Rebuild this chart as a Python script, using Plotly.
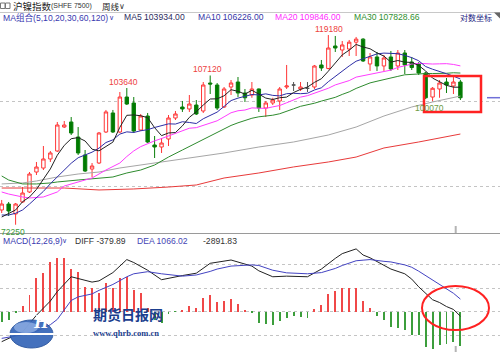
import plotly.graph_objects as go
import pandas as pd
import numpy as np

W, H = 500, 352

# ---------------- weekly candles (SHFE nickel index) ----------------
opens = [75120, 76310, 74330, 76720, 78770, 83030, 83910, 85940, 87770, 93500,
         94750, 91070, 86850, 83690, 85030, 92280, 97030, 92280, 101200, 99620,
         92760, 96260, 89170, 88700, 90590, 95750, 98570, 98060, 99090, 97540,
         105010, 104460, 98570, 103910, 105290, 102280, 101740, 103370, 98310, 99620,
         100150, 103910, 104460, 103370, 103550, 103910, 110130, 109120, 115790, 114570,
         114870, 116960, 117900, 110420, 112480, 109840, 112480, 109840, 113670, 111000,
         110420, 107820, 101200, 103370, 105290, 104190, 105290]
highs = [77130, 76720, 76520, 79810, 83030, 85260, 88930, 87770, 94750, 95000,
         96000, 93500, 88000, 85030, 92280, 97800, 97800, 102550, 103640, 101200,
         96770, 97030, 91310, 90830, 96510, 97540, 100150, 101740, 100410, 105290,
         107120, 105010, 103910, 105850, 106690, 103370, 105290, 103500, 100150, 101000,
         103910, 110130, 105290, 105290, 105290, 110130, 111590, 119180, 118890, 117320,
         117640, 118580, 118200, 113670, 113970, 113070, 114270, 114570, 114570, 112480,
         111000, 108120, 103910, 105850, 106410, 106690, 105850]
lows = [74520, 73930, 72250, 76520, 78560, 82380, 83470, 85260, 87540, 93260,
        91550, 86850, 83030, 81950, 84810, 92040, 92040, 92040, 99090, 92040,
        92520, 89640, 86160, 87310, 88940, 95250, 97290, 97290, 96510, 97030,
        102010, 97800, 98310, 101740, 101200, 99880, 101000, 97290, 96010, 99090,
        97800, 103370, 102820, 102820, 102550, 103370, 108410, 108860, 113970, 112480,
        112770, 112770, 111010, 108410, 108410, 108410, 108410, 108680, 107530, 108680,
        107260, 100670, 100070, 101000, 102280, 102010, 100410]
closes = [76310, 74920, 76310, 78560, 82600, 84130, 85940, 87310, 94000, 94000,
          92040, 87310, 83250, 84360, 92040, 97290, 92280, 101200, 99350, 92520,
          96260, 89870, 88700, 89640, 95750, 96770, 98060, 99350, 96770, 104460,
          104740, 98310, 103370, 105010, 102280, 101000, 103370, 98310, 99620, 100410,
          103370, 104190, 104460, 103910, 103550, 109830, 109260, 115170, 115170, 116100,
          116960, 117900, 111300, 112480, 109840, 112180, 108970, 113670, 110130, 109390,
          107820, 101000, 103560, 105010, 104460, 105290, 101000]
doji_weeks = [42, 44]

ma5_head_idx = [0, 1, 2, 3]
ma5_head_val = [73740, 74370, 75120, 76780]
ma10_head_idx = [0, 1, 2, 3, 4, 5, 6, 7, 8]
ma10_head_val = [74130, 74130, 74470, 75120, 76310, 77500, 78900, 80500, 82000]
ma20_head_idx = [0, 1, 3, 4, 6, 8, 9, 11, 13, 15, 17, 18]
ma20_head_val = [78770, 78350, 77740, 77540, 77740, 78770, 80020, 80880, 81740, 83470, 85030, 86500]
ma30_head_idx = [0, 1, 3, 5, 7, 8, 11, 13, 16, 18, 20, 22, 24, 26, 28]
ma30_head_val = [82170, 81300, 80460, 80460, 80670, 80880, 81300, 81520, 81950, 82820, 83470, 84580, 86380, 88000, 89700]
ma60_idx = [0, 3, 5, 8, 11, 14, 17, 20, 23, 27, 32, 37, 42, 47, 51, 55, 59, 62, 66]
ma60_val = [80460, 80670, 81090, 81950, 82600, 83030, 83920, 84580, 85260, 86170, 87310, 88700,
            89880, 91550, 93500, 96260, 98570, 99880, 101470]
ma120_idx = [0, 5, 9, 14, 19, 24, 28, 32, 37, 42, 47, 51, 55, 60, 66]
ma120_val = [79600, 79600, 79600, 79190, 79400, 79810, 80240, 81730, 82820, 84150, 85260, 86380,
             88470, 89880, 91790]

# ---------------- MACD(12,26,9) ----------------
macd_hist = [-844, -700, -110, 481, 1409, 2844, 3266, 4195, 4558, 4507,
             3629, 3376, 2110, 2000, 1578, 2422, 2026, 2870, 2954, 1831,
             1578, 338, -700, -979, -219, -25, 143, 481, 287, 1182,
             1409, 793, 903, 1072, 650, 143, -100, -979, -1063, -1123,
             -785, -557, -338, -422, -506, 228, 565, 1469, 1772, 1975,
             2026, 2026, 903, 338, -338, -700, -1266, -1401, -1545, -1967,
             -1967, -2954, -3148, -2810, -2751, -2583, -2892]
diff_idx = [0, 3, 5, 7, 8, 10, 11, 13, 14, 16, 18, 19, 21, 23, 26, 28, 30, 33, 36, 37,
            39, 41, 44, 46, 48, 49, 51, 52, 53, 55, 56, 58, 59, 60, 61, 62, 63, 64, 65, 66]
diff_val = [-2532, -1700, -300, 900, 1700, 2950, 2800, 2500, 2600, 3300, 4400, 4150, 3500, 2700,
            3050, 3250, 4085, 4363, 3850, 3450, 2950, 3000, 2950, 3600, 4500, 4900, 5300, 4785,
            4550, 3900, 3600, 3200, 2750, 2100, 1520, 1010, 775, 435, 190, -380]
dea_idx = [0, 3, 5, 7, 8, 10, 11, 13, 14, 16, 18, 19, 21, 23, 26, 28, 30, 31, 33, 36, 37,
           39, 41, 44, 46, 48, 49, 51, 52, 53, 55, 56, 58, 59, 60, 61, 62, 63, 64, 65, 66]
dea_val = [-2250, -1950, -1650, -1100, -650, 950, 1250, 1500, 1800, 2300, 2950, 3200, 3376, 3200,
           3000, 3100, 3400, 3600, 3850, 3950, 3900, 3500, 3280, 3200, 3300, 3650, 3900, 4300,
           4350, 4400, 4250, 4200, 3950, 3750, 3420, 3040, 2634, 2262, 1897, 1556, 1066]

header_texts = {
    'name': '沪镍指数', 'code': '(SHFE 7500)', 'period': '周线',
    'ma': 'MA组合(5,10,20,30,60,120)', 'ma5': 'MA5 103934.00', 'ma10': 'MA10 106226.00',
    'ma20': 'MA20 109846.00', 'ma30': 'MA30 107828.66', 'log': '对数坐标',
    'macd': 'MACD(12,26,9)', 'diff': 'DIFF -379.89', 'dea': 'DEA 1066.02', 'hist': '-2891.83',
}

# ---------------- build ----------------
n = len(closes)
weeks = list(range(n))
cs = pd.Series(closes, dtype=float)


def ma_line(period, head_idx, head_val):
    roll = cs.rolling(period).mean()
    return list(head_idx) + list(range(period - 1, n)), list(head_val) + list(roll.iloc[period - 1:])


fig = go.Figure()

norm = [i for i in weeks if i not in doji_weeks]
fig.add_trace(go.Candlestick(
    x=norm, open=[opens[i] for i in norm], high=[highs[i] for i in norm],
    low=[lows[i] for i in norm], close=[closes[i] for i in norm],
    increasing=dict(line=dict(color='#ff3535', width=1), fillcolor='#ffffff'),
    decreasing=dict(line=dict(color='#0a7f0a', width=1), fillcolor='#007a00'),
    whiskerwidth=0, hoverinfo='skip', showlegend=False, xaxis='x', yaxis='y'))
fig.add_trace(go.Candlestick(
    x=doji_weeks, open=[opens[i] for i in doji_weeks], high=[highs[i] for i in doji_weeks],
    low=[lows[i] for i in doji_weeks], close=[closes[i] for i in doji_weeks],
    increasing=dict(line=dict(color='#555555', width=1), fillcolor='#555555'),
    decreasing=dict(line=dict(color='#555555', width=1), fillcolor='#555555'),
    whiskerwidth=0, hoverinfo='skip', showlegend=False, xaxis='x', yaxis='y'))

lines = [
    (ma120_idx, ma120_val, '#e83a3a'),
    (ma60_idx, ma60_val, '#a6a6a6'),
    (*ma_line(30, ma30_head_idx, ma30_head_val), '#2e8b2e'),
    (*ma_line(20, ma20_head_idx, ma20_head_val), '#ff3cff'),
    (*ma_line(10, ma10_head_idx, ma10_head_val), '#2e2ea6'),
    (*ma_line(5, ma5_head_idx, ma5_head_val), '#222222'),
]
for xi, yv, col in lines:
    fig.add_trace(go.Scatter(x=xi, y=yv, mode='lines', line=dict(color=col, width=1),
                             hoverinfo='skip', showlegend=False, xaxis='x', yaxis='y'))

bar_cols = ['#f04848' if v >= 0 else '#3c9e3c' for v in macd_hist]
fig.add_trace(go.Bar(x=weeks, y=macd_hist, width=0.14, marker=dict(color=bar_cols, line=dict(width=0)),
                     hoverinfo='skip', showlegend=False, xaxis='x2', yaxis='y2'))
fig.add_trace(go.Scatter(x=diff_idx, y=diff_val, mode='lines', line=dict(color='#222222', width=1),
                         hoverinfo='skip', showlegend=False, xaxis='x2', yaxis='y2'))
fig.add_trace(go.Scatter(x=dea_idx, y=dea_val, mode='lines', line=dict(color='#4343c2', width=1),
                         hoverinfo='skip', showlegend=False, xaxis='x2', yaxis='y2'))

# ---------------- layout ----------------
def px(x):
    return x / W


def py(y):
    return 1 - y / H


xr = [-0.245, 71.70]
main_top, main_bot = 22, 233
macd_top = 244
log_top = np.log10(103640) + (88 - main_top) / 379 / np.log(10)
log_bot = np.log10(103640) - (main_bot - 88) / 379 / np.log(10)
macd_unit = 84.4
macd_range = [-(352 - 311.7) * macd_unit, (311.7 - macd_top) * macd_unit]

grid = dict(showgrid=True, gridcolor='#c4c4c4', griddash='dot', gridwidth=1, zeroline=False,
            showline=False, showticklabels=False, ticks='')

annotations = []


def txt(x, y, s, color, size, family='Liberation Sans, Noto Sans CJK SC', anchor='left'):
    annotations.append(dict(x=px(x), y=py(y), xref='paper', yref='paper', text=s, showarrow=False,
                            xanchor=anchor, yanchor='middle', borderpad=0,
                            font=dict(family=family, size=size, color=color)))


cjk = 'Noto Sans CJK SC'
txt(12, 6, header_texts['name'], '#222222', 9.5, cjk)
txt(50, 6.5, header_texts['code'], '#333333', 7)
txt(101, 6, header_texts['period'], '#222222', 8.5, cjk)
txt(118, 6, '∨', '#333333', 8, 'DejaVu Sans')
txt(1.5, 17.5, header_texts['ma'], '#3939b0', 8.6)
txt(108, 18, '∨', '#3939b0', 7, 'DejaVu Sans')
txt(122.5, 17.5, header_texts['ma5'], '#2c2c60', 8.6)
txt(196.5, 17.5, header_texts['ma10'], '#3535a8', 8.6)
txt(274, 17.5, header_texts['ma20'], '#ff2cff', 8.6)
txt(353, 17.5, header_texts['ma30'], '#2f8f2f', 8.6)
txt(459, 17.5, header_texts['log'], '#1c1c80', 8, cjk)
txt(1.5, 240.8, header_texts['macd'], '#3939b0', 8.6)
txt(61, 241.3, '∨', '#3939b0', 7, 'DejaVu Sans')
txt(74, 240.8, header_texts['diff'], '#333333', 8.6)
txt(136, 240.8, header_texts['dea'], '#4545b5', 8.6)
txt(202, 240.8, header_texts['hist'], '#333333', 8.6)

# extreme price labels tied to the data
extremes = [(18, highs[18], 'high', -3, '#ee4040'), (30, highs[30], 'high', -3, '#ee4040'),
            (47, highs[47], 'high', 1, '#ee4040'), (62, lows[62], 'low', -3, '#6e9a44'),
            (2, lows[2], 'low', -3, '#3a9a3a')]
for wk, val, kind, xs_, col in extremes:
    annotations.append(dict(x=wk, y=np.log10(val), xref='x', yref='y', text=str(val), showarrow=False,
                            xanchor='center', yanchor='bottom' if kind == 'high' else 'top',
                            yshift=0 if kind == 'high' else -1, xshift=xs_, borderpad=0,
                            font=dict(family='Liberation Sans', size=8.5, color=col)))

# logo watermark
annotations.append(dict(x=px(31), y=py(334), xref='paper', yref='paper', text='<b><i>H</i></b>',
                        showarrow=False, font=dict(family='Liberation Serif', size=19, color='white')))
annotations.append(dict(x=px(91), y=py(326), xref='paper', yref='paper', text='<b>期货日报网</b>',
                        showarrow=False, font=dict(family=cjk, size=14, color='#1b3e8e')))
annotations.append(dict(x=px(91), y=py(339.5), xref='paper', yref='paper', text='<b>www.qhrb.com.cn</b>',
                        showarrow=False, font=dict(family='Liberation Serif', size=8.5, color='#1b3e8e')))

shapes = []


def line(x0, y0, x1, y1, color, width):
    shapes.append(dict(type='line', xref='paper', yref='paper', x0=px(x0), y0=py(y0), x1=px(x1), y1=py(y1),
                       line=dict(color=color, width=width)))


line(0, 12.5, 500, 12.5, '#c8c8c8', 1)
line(0, 233.5, 500, 233.5, '#9a9a9a', 1)
line(455.7, 226, 455.7, 233, '#b4b4b4', 2)
line(455.7, 346, 455.7, 352, '#b4b4b4', 2)
line(487, 97.7, 500, 97.7, '#7070d8', 1.5)
for x0, x1 in [(0.5, 5), (5.5, 10)]:
    shapes.append(dict(type='rect', xref='paper', yref='paper', x0=px(x0), x1=px(x1), y0=py(8.5), y1=py(3),
                       line=dict(color='#777777', width=1)))
shapes.append(dict(type='path', xref='paper', yref='paper',
                   path=f'M {px(494)} {py(12.5)} L {px(500)} {py(12.5)} L {px(500)} {py(18.5)} Z',
                   fillcolor='#666666', line=dict(width=0)))
# logo shapes
shapes.append(dict(type='circle', xref='paper', yref='paper', x0=px(10), x1=px(53), y0=py(348), y1=py(320),
                   fillcolor='#3566b8', line=dict(color='#24509c', width=1), opacity=0.92))
shapes.append(dict(type='circle', xref='paper', yref='paper', x0=px(14), x1=px(38), y0=py(333), y1=py(322),
                   fillcolor='#9ab8ea', line=dict(width=0), opacity=0.7))
line(6, 334, 58, 334, '#ffffff', 2)
# red highlights
shapes.append(dict(type='rect', xref='paper', yref='paper', x0=px(424), x1=px(481), y0=py(112), y1=py(76),
                   line=dict(color='#ff2222', width=2.5)))
shapes.append(dict(type='circle', xref='paper', yref='paper', x0=px(422), x1=px(489), y0=py(330), y1=py(286),
                   line=dict(color='#ff2222', width=2)))

fig.update_layout(
    width=W, height=H, margin=dict(l=0, r=0, t=0, b=0),
    paper_bgcolor='white', plot_bgcolor='white', showlegend=False, boxgap=0.3,
    bargap=0, hovermode=False,
    xaxis=dict(domain=[0, 1], range=xr, visible=False, anchor='y', rangeslider=dict(visible=False)),
    yaxis=dict(domain=[py(main_bot), py(main_top)], type='log', range=[log_bot, log_top],
               tickvals=[80000, 100000], anchor='x', **grid),
    xaxis2=dict(domain=[0, 1], range=xr, visible=False, anchor='y2'),
    yaxis2=dict(domain=[0, py(macd_top)], range=macd_range, tickvals=[-2000, 0, 2000, 4000],
                anchor='x2', **grid),
    annotations=annotations, shapes=shapes,
)

fig.write_html('out.html', config={'displayModeBar': False})
